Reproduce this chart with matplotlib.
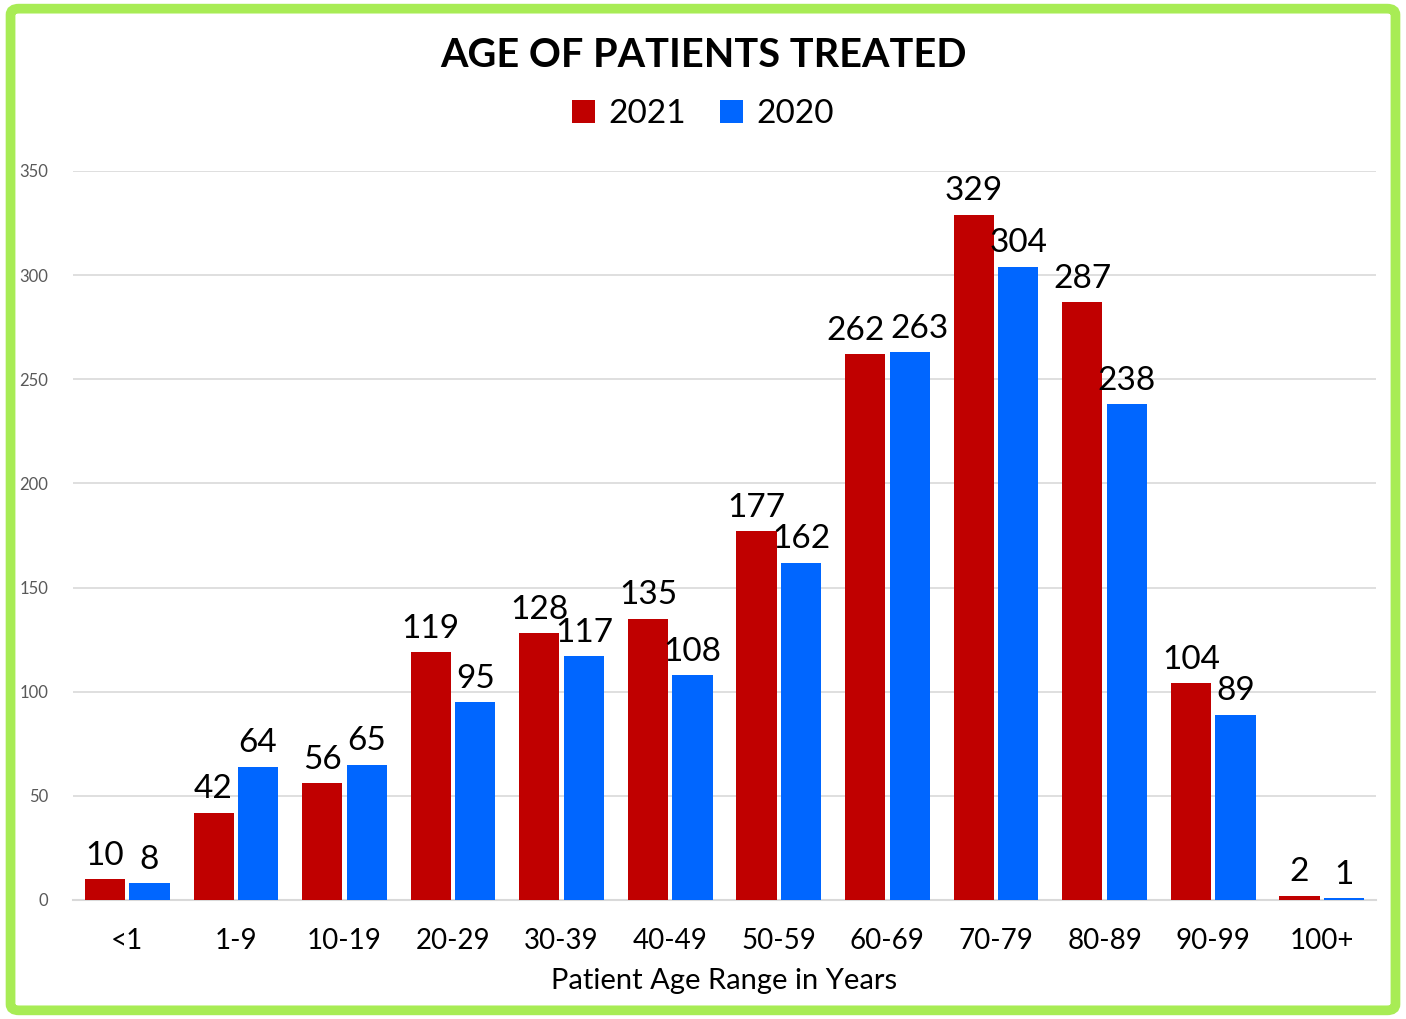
import matplotlib
matplotlib.use("Agg")
import matplotlib.pyplot as plt
from matplotlib.patches import FancyBboxPatch
import numpy as np

plt.rcParams['font.family'] = ['Lato', 'DejaVu Sans']

age_ranges = ['<1', '1-9', '10-19', '20-29', '30-39', '40-49', '50-59',
              '60-69', '70-79', '80-89', '90-99', '100+']
patients_2021 = [10, 42, 56, 119, 128, 135, 177, 262, 329, 287, 104, 2]
patients_2020 = [8, 64, 65, 95, 117, 108, 162, 263, 304, 238, 89, 1]
y_ticks = [0, 50, 100, 150, 200, 250, 300, 350]

red = '#c00000'
blue = '#0066ff'

fig = plt.figure(figsize=(14.06, 10.19), dpi=100)
ax = fig.add_axes([0.0519, 0.1168, 0.9268, 0.7154])

x = np.arange(len(age_ranges))
w = 0.37
off = 0.205
ax.bar(x - off, patients_2021, w, color=red, label='2021', zorder=3)
ax.bar(x + off, patients_2020, w, color=blue, label='2020', zorder=3)

# labels that would collide get pushed apart a little
nudge = {'60-69': 0.09}
for xi, name, v1, v2 in zip(x, age_ranges, patients_2021, patients_2020):
    d = nudge.get(name, 0)
    ax.text(xi - off - d, v1 + 4, str(v1), ha='center', va='bottom', fontsize=24, color='black')
    ax.text(xi + off + d, v2 + 4, str(v2), ha='center', va='bottom', fontsize=24, color='black')

ax.set_xlim(-0.5, len(age_ranges) - 0.5)
ax.set_ylim(0, 350)
ax.set_yticks(y_ticks)
ax.set_yticklabels([str(t) for t in y_ticks], fontsize=12, color='#595959')
ax.set_xticks(x)
ax.set_xticklabels(age_ranges, fontsize=20, color='black')
ax.tick_params(axis='both', length=0)
ax.tick_params(axis='x', pad=20)
ax.tick_params(axis='y', pad=18)
ax.grid(axis='y', color='#d9d9d9', linewidth=1.2, zorder=0)
for s in ['top', 'right', 'left']:
    ax.spines[s].set_visible(False)
ax.spines['bottom'].set_color('#d9d9d9')
ax.spines['bottom'].set_linewidth(1.5)
ax.set_xlabel('Patient Age Range in Years', fontsize=21, labelpad=10)

fig.text(0.5, 0.946, 'AGE OF PATIENTS TREATED', ha='center', va='center',
         fontsize=28.5, fontweight='bold')
leg = fig.legend(loc='center', bbox_to_anchor=(0.5, 0.888), ncol=2, frameon=False,
                 fontsize=24, handlelength=0.7, handleheight=0.7, handletextpad=0.4,
                 columnspacing=1.0)

border = FancyBboxPatch((0.0075, 0.0085), 0.985, 0.983, transform=fig.transFigure,
                        boxstyle='round,pad=0,rounding_size=0.006', fill=False,
                        edgecolor='#a8ec55', linewidth=7, zorder=10)
fig.patches.append(border)

fig.savefig('out.png', dpi=100)
